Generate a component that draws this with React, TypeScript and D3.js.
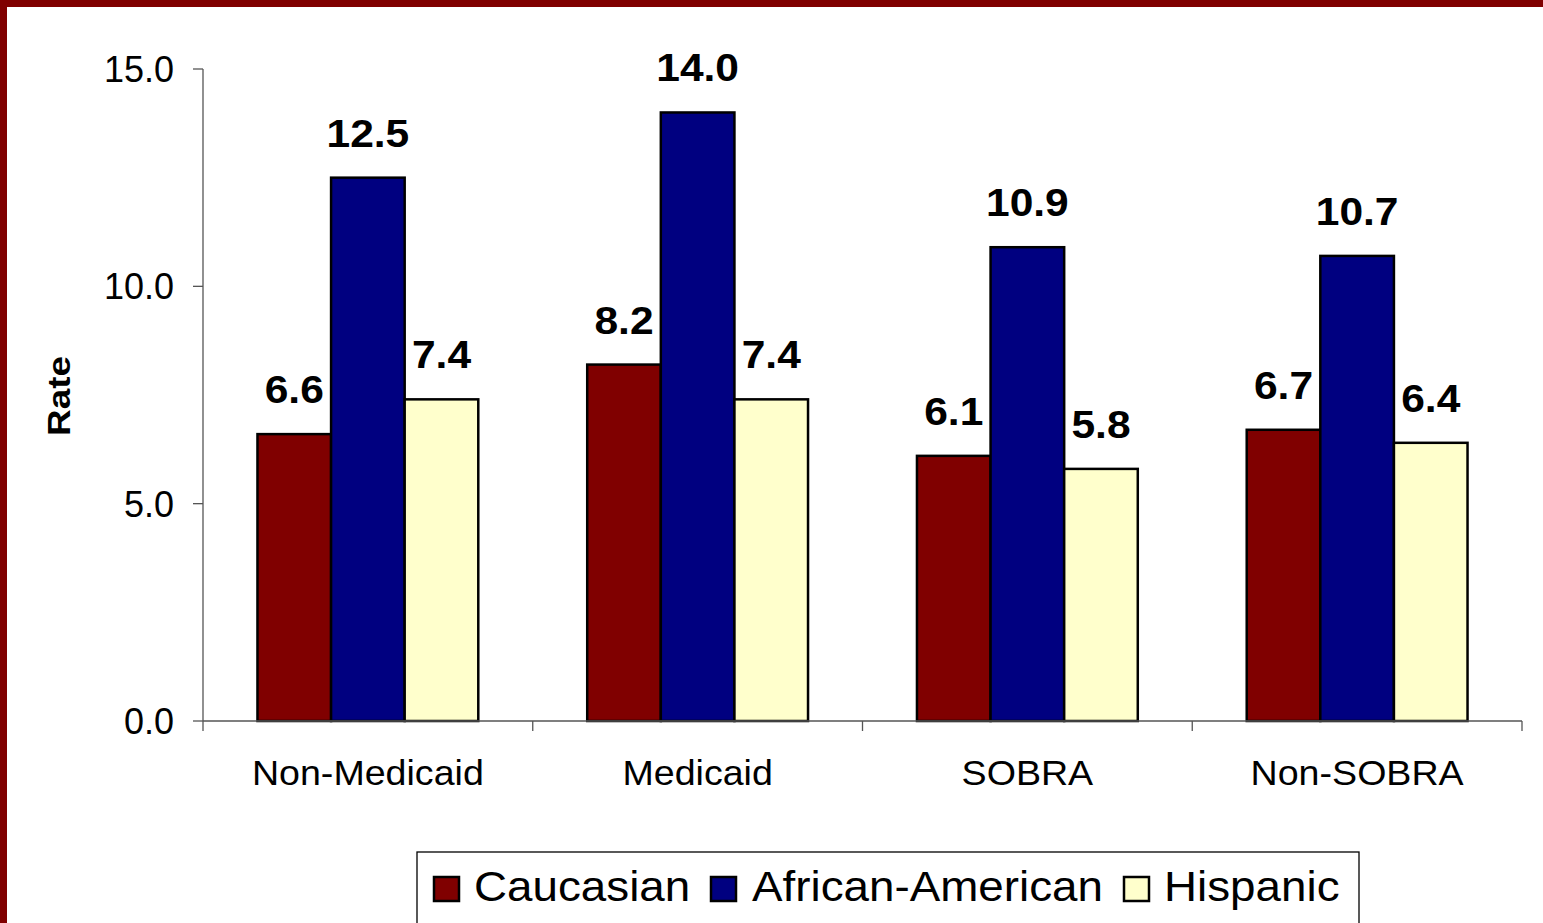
import React from "react";
import * as d3 from "d3";

const categories = ["Non-Medicaid", "Medicaid", "SOBRA", "Non-SOBRA"];
const seriesNames = ["Caucasian", "African-American", "Hispanic"];
const caucasian = [6.6, 8.2, 6.1, 6.7];
const africanAmerican = [12.5, 14.0, 10.9, 10.7];
const hispanic = [7.4, 7.4, 5.8, 6.4];
const yTicks = [0, 5, 10, 15];
const colors = ["#800000", "#000080", "#FFFFCC"];

const W = 1543;
const H = 923;
const FONT = "'Liberation Sans', Arial, sans-serif";

// Text stretched horizontally around its anchor point
function WideText(props: {
  x: number;
  y: number;
  sx: number;
  size: number;
  anchor?: "start" | "middle" | "end";
  bold?: boolean;
  children: React.ReactNode;
}) {
  const { x, y, sx, size, anchor = "start", bold, children } = props;
  return (
    <text
      transform={`translate(${x},${y}) scale(${sx},1)`}
      textAnchor={anchor}
      fontSize={size}
      fontWeight={bold ? "bold" : "normal"}
      fill="#000"
    >
      {children}
    </text>
  );
}

export default function App() {
  const series = [caucasian, africanAmerican, hispanic];
  const x0 = d3.scaleBand<string>().domain(categories).range([203, 1522]).paddingInner(0).paddingOuter(0);
  const groupInner = d3
    .scaleBand<string>()
    .domain(seriesNames)
    .range([0, x0.bandwidth()])
    .paddingOuter(0.74)
    .paddingInner(0);
  const y = d3.scaleLinear().domain([0, 15]).range([721, 69]);

  const tickXs = [...categories.map((c) => x0(c) as number), 1522];

  const legendItems = [
    { name: seriesNames[0], sx: 434, tx: 474 },
    { name: seriesNames[1], sx: 711, tx: 752 },
    { name: seriesNames[2], sx: 1124, tx: 1164 },
  ];

  return (
    <svg
      width={W}
      height={H}
      style={{ position: "absolute", left: 0, top: 0, background: "#fff" }}
      fontFamily={FONT}
    >
      {/* frame */}
      <rect x={0} y={0} width={W} height={7} fill="#800000" />
      <rect x={0} y={0} width={7} height={H} fill="#800000" />

      {/* y axis */}
      <line x1={203} x2={203} y1={y(15)} y2={y(0)} stroke="#555" strokeWidth={1.3} />
      {yTicks.map((t) => (
        <g key={t}>
          <line x1={193} x2={203} y1={y(t)} y2={y(t)} stroke="#555" strokeWidth={1.3} />
          <text x={174} y={y(t) + 13} textAnchor="end" fontSize={36} fill="#000">
            {t.toFixed(1)}
          </text>
        </g>
      ))}
      <text
        transform={`translate(70,${y(7.5) + 1}) rotate(-90) scale(1.19,1)`}
        textAnchor="middle"
        fontSize={31}
        fontWeight="bold"
      >
        Rate
      </text>

      {/* bars with value labels */}
      {categories.map((c, ci) => (
        <g key={c} transform={`translate(${x0(c)},0)`}>
          {series.map((vals, si) => {
            const bx = groupInner(seriesNames[si]) as number;
            const bw = groupInner.bandwidth();
            return (
              <g key={si}>
                <rect
                  x={bx}
                  y={y(vals[ci])}
                  width={bw}
                  height={y(0) - y(vals[ci])}
                  fill={colors[si]}
                  stroke="#000"
                  strokeWidth={2.5}
                />
                <WideText x={bx + bw / 2} y={y(vals[ci]) - 31} sx={1.12} size={38} anchor="middle" bold>
                  {vals[ci].toFixed(1)}
                </WideText>
              </g>
            );
          })}
        </g>
      ))}

      {/* x axis */}
      <line x1={203} x2={1522} y1={y(0)} y2={y(0)} stroke="#555" strokeWidth={1.3} />
      {tickXs.map((tx, i) => (
        <line key={i} x1={tx} x2={tx} y1={y(0)} y2={y(0) + 10} stroke="#555" strokeWidth={1.3} />
      ))}
      {categories.map((c) => (
        <WideText key={c} x={(x0(c) as number) + x0.bandwidth() / 2} y={785} sx={1.045} size={36} anchor="middle">
          {c}
        </WideText>
      ))}

      {/* legend */}
      <rect x={417} y={852} width={942} height={90} fill="#fff" stroke="#000" strokeWidth={1.3} />
      {legendItems.map((it, i) => (
        <g key={it.name}>
          <rect x={it.sx} y={877} width={25} height={24} fill={colors[i]} stroke="#000" strokeWidth={2.5} />
          <WideText x={it.tx} y={901} sx={1.09} size={42}>
            {it.name}
          </WideText>
        </g>
      ))}
    </svg>
  );
}
